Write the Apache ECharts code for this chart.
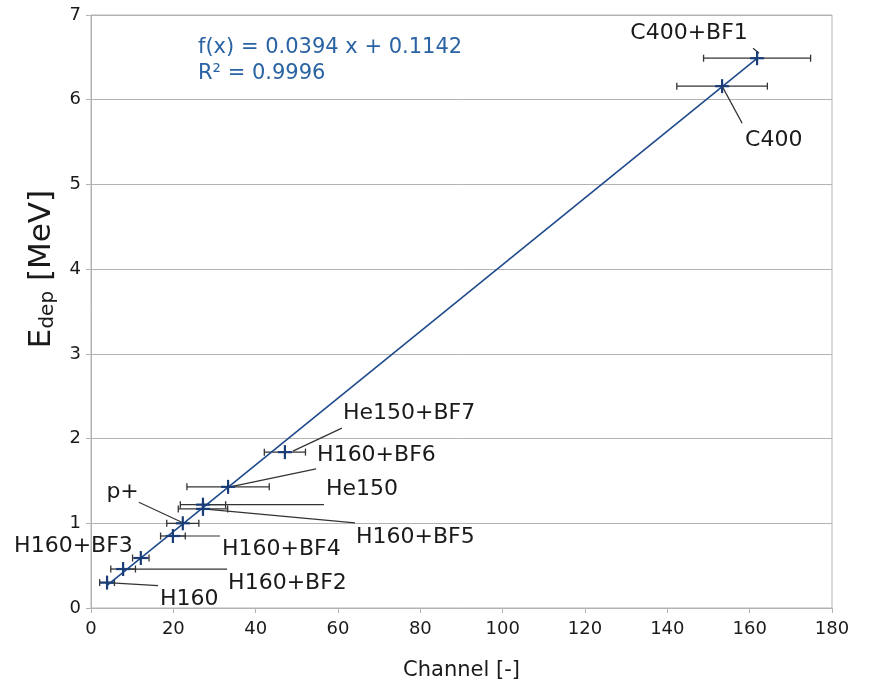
<!DOCTYPE html>
<html><head><meta charset="utf-8">
<script src="https://cdn.jsdelivr.net/npm/echarts@6/dist/echarts.min.js"></script>
<style>html,body{margin:0;padding:0;background:#fff}#c{width:870px;height:687px}</style>
</head><body><div id="c"></div>
<script>
// ---- data ----
const pointNames = ['C400+BF1','C400','He150+BF7','H160+BF6','He150','H160+BF5','p+','H160+BF4','H160+BF3','H160+BF2','H160'];
const channel    = [161.8, 153.3, 47.1, 33.3, 27.2, 27.2, 22.3, 19.9, 12.1, 7.8, 3.9];
const edep       = [6.49, 6.16, 1.84, 1.43, 1.22, 1.17, 1.00, 0.85, 0.59, 0.46, 0.30];
const channelErr = [13, 11, 5, 10, 5.5, 6, 3.9, 3, 2, 3, 1.8];
const fitSlope = 0.0394;
const fitIntercept = 0.1142;
const fitText = 'f(x) = 0.0394 x + 0.1142';
const r2Text = 'R² = 0.9996';
const xTickStep = 20, xMax = 180;
const yTickStep = 1, yMax = 7;

// ---- label placement (pixel offsets from each marker; style only) ----
// [textDx, textDy, align, lineStartDx, lineStartDy, lineEndDx, lineEndDy]
const labelPlacement = [
  [-68, -25, 'center', -4, -10, 2, -5],
  [23, 54, 'left', 0, 0, 20, 37],
  [58, -39, 'left', 8, -1, 57, -24],
  [89, -32, 'left', 2, 0, 88, -18],
  [123, -15, 'left', 0, 0, 121, 0],
  [153, 28, 'left', 0, 0, 152, 14],
  [-44, -31, 'right', -44, -21, -1, -1],
  [49, 13, 'left', 0, 0, 47, 0],
  [-8, -12, 'right', 0, 0, 0, 0],
  [105, 14, 'left', 0, 0, 104, 0],
  [53, 17, 'left', 0, 0, 51, 3]
];

const FONT = 'DejaVu Sans';
const pts = channel.map((x, i) => [x, edep[i], channelErr[i], i]);
const xFitMin = Math.min(...channel), xFitMax = Math.max(...channel);
const fitLine = [[xFitMin, fitSlope * xFitMin + fitIntercept], [xFitMax, fitSlope * xFitMax + fitIntercept]];

const chart = echarts.init(document.getElementById('c'), null, {renderer: 'canvas'});
chart.setOption({
  animation: false,
  backgroundColor: '#fff',
  grid: {left: 91, right: 38, top: 15, bottom: 79, show: true, borderColor: '#b3b3b3', borderWidth: 1},
  xAxis: {
    type: 'value', min: 0, max: xMax, interval: xTickStep,
    name: 'Channel [-]', nameLocation: 'middle', nameGap: 52,
    nameTextStyle: {fontFamily: FONT, fontSize: 21, color: '#1a1a1a'},
    axisLine: {lineStyle: {color: '#b3b3b3'}},
    axisTick: {show: true, length: 5, lineStyle: {color: '#b3b3b3'}},
    axisLabel: {fontFamily: FONT, fontSize: 18, color: '#1a1a1a', margin: 12},
    splitLine: {show: false}
  },
  yAxis: {
    type: 'value', min: 0, max: yMax, interval: yTickStep,
    axisLine: {show: true, lineStyle: {color: '#b3b3b3'}},
    axisTick: {show: true, length: 5, lineStyle: {color: '#b3b3b3'}},
    axisLabel: {fontFamily: FONT, fontSize: 18, color: '#1a1a1a', margin: 10},
    splitLine: {show: true, lineStyle: {color: '#b3b3b3', width: 1}}
  },
  graphic: [
    {type: 'text', left: 198, top: 37, style: {text: fitText, fontFamily: FONT, fontSize: 21, fill: '#2a63a3'}},
    {type: 'text', left: 198, top: 63, style: {text: r2Text, fontFamily: FONT, fontSize: 21, fill: '#2a63a3'}},
    {type: 'text', x: 42, y: 269, rotation: Math.PI / 2,
     style: {text: '{e|E}{s|dep}{e| [MeV]}', align: 'center', verticalAlign: 'middle',
       rich: {e: {fontFamily: FONT, fontSize: 31, fill: '#1a1a1a'},
              s: {fontFamily: FONT, fontSize: 20, fill: '#1a1a1a', padding: [12, 0, 0, 0]}}}}
  ],
  series: [
    {
      type: 'custom', name: 'labels', z: 2,
      data: pts,
      renderItem(params, api) {
        const i = api.value(3);
        const p = api.coord([api.value(0), api.value(1)]);
        const lp = labelPlacement[i];
        const children = [];
        if (lp[3] !== lp[5] || lp[4] !== lp[6]) {
          children.push({type: 'line', shape: {x1: p[0] + lp[3], y1: p[1] + lp[4], x2: p[0] + lp[5], y2: p[1] + lp[6]},
            style: {stroke: '#333', lineWidth: 1.2}});
        }
        children.push({type: 'text', x: p[0] + lp[0], y: p[1] + lp[1],
          style: {text: pointNames[i], fontFamily: FONT, fontSize: 22, fill: '#1a1a1a', align: lp[2], verticalAlign: 'middle'}});
        return {type: 'group', children};
      }
    },
    {
      type: 'custom', name: 'errors', z: 3,
      data: pts,
      renderItem(params, api) {
        const x = api.value(0), y = api.value(1), e = api.value(2);
        const a = api.coord([x - e, y]), b = api.coord([x + e, y]);
        const c = 3.5, st = {stroke: '#333', lineWidth: 1.3};
        return {type: 'group', children: [
          {type: 'line', shape: {x1: a[0], y1: a[1], x2: b[0], y2: b[1]}, style: st},
          {type: 'line', shape: {x1: a[0], y1: a[1] - c, x2: a[0], y2: a[1] + c}, style: st},
          {type: 'line', shape: {x1: b[0], y1: b[1] - c, x2: b[0], y2: b[1] + c}, style: st}
        ]};
      }
    },
    {
      type: 'line', name: 'fit', z: 4, data: fitLine, symbol: 'none',
      lineStyle: {color: '#1f4a8c', width: 1.6}
    },
    {
      type: 'custom', name: 'markers', z: 5,
      data: pts,
      renderItem(params, api) {
        const p = api.coord([api.value(0), api.value(1)]);
        const st = {stroke: '#1a3d78', lineWidth: 2.2};
        return {type: 'group', children: [
          {type: 'line', shape: {x1: p[0] - 7, y1: p[1], x2: p[0] + 7, y2: p[1]}, style: st},
          {type: 'line', shape: {x1: p[0], y1: p[1] - 7, x2: p[0], y2: p[1] + 7}, style: st}
        ]};
      }
    }
  ]
});
</script></body></html>
